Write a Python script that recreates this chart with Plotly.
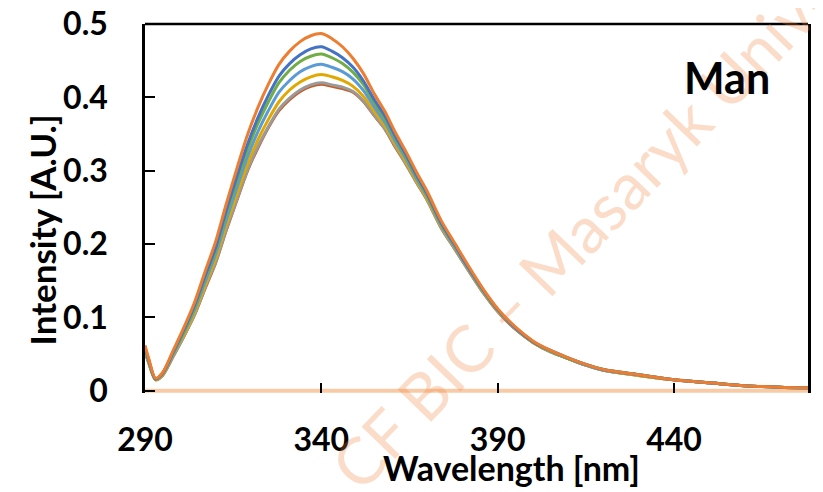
import plotly.graph_objects as go

# emission spectra (wavelength in nm, intensity in A.U.)
wavelength = [290, 291, 293, 295, 298, 301, 304, 307, 310, 313, 316, 319, 322, 325, 328, 331,
              334, 337, 340, 343, 346, 349, 352, 355, 358, 361, 364, 367, 370, 374, 378, 382,
              386, 390, 395, 400, 405, 410, 415, 420, 430, 440, 450, 460, 470, 478]

s_orange = [.062, .045, .017, .025, .055, .086, .120, .162, .203, .254, .302, .348, .386, .418, .445, .463,
            .476, .484, .487, .480, .469, .453, .432, .405, .381, .352, .326, .298, .272, .232, .200, .168,
            .138, .112, .087, .068, .055, .045, .036, .029, .022, .015, .011, .007, .005, .004]
s_blue = [.060, .043, .016, .024, .053, .083, .116, .156, .195, .245, .291, .335, .372, .403, .429, .446,
          .458, .466, .469, .463, .454, .441, .422, .397, .375, .347, .322, .294, .269, .229, .198, .166,
          .137, .111, .086, .067, .055, .045, .036, .029, .022, .015, .011, .007, .005, .004]
s_green = [.058, .042, .016, .024, .052, .081, .113, .153, .191, .240, .285, .328, .364, .394, .420, .437,
           .449, .456, .459, .454, .446, .434, .417, .393, .371, .344, .319, .292, .267, .228, .197, .166,
           .136, .111, .086, .067, .054, .044, .036, .029, .022, .015, .011, .007, .005, .004]
s_lightblue = [.057, .041, .016, .023, .050, .079, .110, .148, .186, .232, .276, .318, .353, .382, .407, .423,
               .435, .442, .445, .441, .435, .425, .409, .387, .366, .340, .316, .289, .265, .226, .195, .164,
               .135, .110, .085, .067, .054, .044, .035, .028, .022, .015, .011, .007, .005, .004]
s_gold = [.055, .040, .015, .022, .049, .076, .106, .143, .180, .225, .267, .308, .342, .370, .394, .410,
          .421, .428, .431, .428, .423, .415, .401, .381, .361, .336, .312, .286, .262, .224, .194, .163,
          .134, .109, .085, .066, .054, .044, .035, .028, .021, .015, .011, .007, .005, .004]
s_gray = [.053, .039, .015, .022, .047, .074, .103, .140, .175, .219, .260, .300, .333, .360, .384, .399,
          .410, .417, .420, .417, .414, .408, .395, .376, .357, .333, .309, .284, .260, .222, .192, .162,
          .133, .109, .085, .066, .053, .044, .035, .028, .021, .015, .011, .007, .005, .004]
s_brown = [.053, .039, .015, .021, .047, .074, .103, .139, .174, .218, .259, .299, .331, .359, .382, .397,
           .408, .415, .418, .415, .412, .407, .394, .375, .357, .332, .309, .284, .260, .222, .192, .162,
           .133, .108, .084, .066, .053, .044, .035, .028, .021, .015, .011, .007, .005, .004]
s_blank = [0] * len(wavelength)

x_ticks = [290, 340, 390, 440]
y_ticks = [0, 0.1, 0.2, 0.3, 0.4, 0.5]

FONT = "Lato"

series = [
    (s_blank, "#F8CBA6", 4),
    (s_brown, "#C65B24", 3),
    (s_gray, "#9A9A9A", 3),
    (s_gold, "#E0A800", 3),
    (s_lightblue, "#5B9BD5", 3),
    (s_green, "#70AD47", 3),
    (s_blue, "#4472C4", 3),
    (s_orange, "#ED7D31", 3),
]

fig = go.Figure()
for vals, col, w in series:
    fig.add_trace(go.Scatter(x=wavelength, y=vals, mode="lines",
                             line=dict(color=col, width=w, shape="spline", smoothing=0.8),
                             showlegend=False))

# page body adds 8px, so the figure is 8px smaller than the window
fig.update_layout(
    width=815, height=484,
    margin=dict(l=137, r=15, t=16, b=99),
    paper_bgcolor="white", plot_bgcolor="white",
    font=dict(family=FONT, color="black"),
    xaxis=dict(range=[290, 478], tickvals=x_ticks, showgrid=False, zeroline=False,
               showline=False, ticks="inside", ticklen=10, tickwidth=2, tickcolor="black",
               ticklabelstandoff=25, automargin=False, ticklabeloverflow="allow",
               tickfont=dict(family=FONT, size=32, weight="bold")),
    yaxis=dict(range=[-0.003, 0.5], tickvals=y_ticks, ticktext=["0", "0.1", "0.2", "0.3", "0.4", "0.5"],
               showgrid=False, zeroline=False,
               showline=True, linecolor="black", linewidth=2.5, mirror=True,
               ticks="inside", ticklen=10, tickwidth=2, tickcolor="black",
               ticklabelstandoff=28, automargin=False, ticklabeloverflow="allow",
               tickfont=dict(family=FONT, size=32, weight="bold")),
)

# top frame line
fig.add_shape(type="line", xref="paper", yref="paper", x0=0, x1=1, y0=1, y1=1,
              line=dict(color="black", width=2.5))

# watermark
fig.add_annotation(text="CF BIC – Masaryk University", xref="paper", yref="paper",
                   x=0.727, y=0.569, xanchor="center", yanchor="middle",
                   showarrow=False, textangle=-46,
                   font=dict(family=FONT, size=65, color="rgba(240,130,60,0.28)"))

# labels
fig.add_annotation(text="Man", xref="paper", yref="paper", x=0.878, y=0.856,
                   xanchor="center", yanchor="middle", showarrow=False,
                   font=dict(family=FONT, size=43, weight="bold"))
fig.add_annotation(text="Wavelength [nm]", xref="paper", yref="paper", x=0.5535, y=-0.203,
                   xanchor="center", yanchor="middle",
                   showarrow=False, font=dict(family=FONT, size=34, weight="bold"))
fig.add_annotation(text="Intensity [A.U.]", xref="paper", yref="paper", x=-0.156, y=0.442,
                   xanchor="center", yanchor="middle",
                   showarrow=False, textangle=-90, font=dict(family=FONT, size=35, weight="bold"))

fig.write_html("out.html")
